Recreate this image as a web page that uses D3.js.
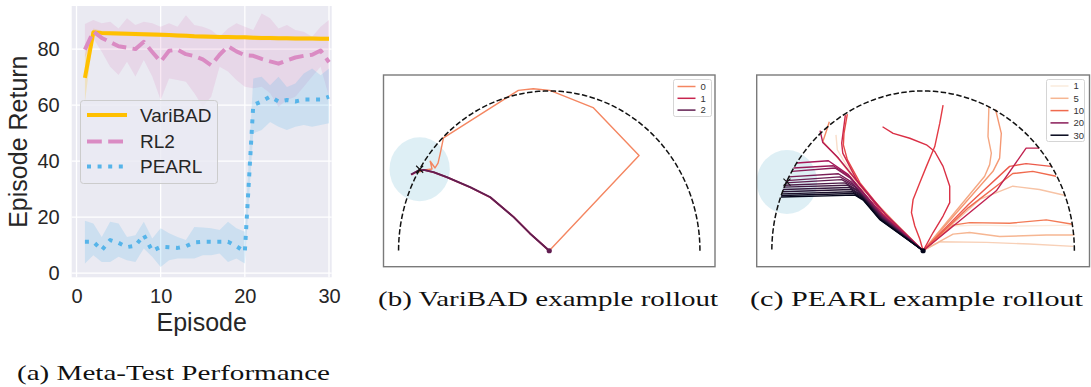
<!DOCTYPE html>
<html>
<head>
<meta charset="utf-8">
<script src="https://cdn.jsdelivr.net/npm/d3@7"></script>
<style>
  body { margin: 0; background: #fff; }
  svg { display: block; }
</style>
</head>
<body>
<svg id="fig" width="1091" height="387"></svg>
<script>
// ---------------- Panel (a): meta-test returns per episode ----------------
const episodes = [1,2,3,4,5,6,7,8,9,10,11,12,13,14,15,16,17,18,19,20,21,22,23,24,25,26,27,28,29,30];

const variBADMean = [69.7,86.0,85.8,85.7,85.6,85.5,85.4,85.3,85.2,85.1,85.0,84.9,84.8,84.6,84.5,84.4,84.3,84.3,84.2,84.2,84.1,84.0,84.0,83.9,83.9,83.8,83.8,83.8,83.7,83.7];
const variBADLow  = [61.0,84.6,85.0,84.9,84.8,84.7,84.6,84.5,84.4,84.3,84.2,84.1,84.0,83.8,83.7,83.6,83.5,83.5,83.4,83.4,83.3,83.2,83.2,83.1,83.1,83.0,83.0,83.0,82.9,82.9];
const variBADHigh = [78.0,87.4,86.6,86.5,86.4,86.3,86.2,86.1,86.0,85.9,85.8,85.7,85.6,85.4,85.3,85.2,85.1,85.1,85.0,85.0,84.9,84.8,84.8,84.7,84.7,84.6,84.6,84.6,84.5,84.5];

const rl2Mean = [79.8,86.3,84.0,82.5,81.0,80.5,80.0,82.6,79.0,75.5,79.4,79.8,78.2,77.5,76.3,74.2,78.0,81.0,79.2,77.8,77.6,76.5,75.6,74.8,76.0,77.0,77.6,78.0,79.5,75.3];
const rl2Low  = [77.0,83.8,79.1,73.7,70.8,75.5,70.2,76.1,70.2,61.8,69.5,69.0,68.3,64.2,59.4,63.0,73.7,72.0,69.0,66.6,66.0,66.6,64.2,59.4,61.8,63.0,66.6,70.2,73.7,63.0];
const rl2High = [89.0,90.4,89.2,89.8,87.4,91.0,88.6,89.8,89.2,88.0,89.2,88.0,92.1,88.6,88.0,86.8,84.4,87.4,89.2,88.0,86.8,92.7,91.0,87.4,88.6,86.8,86.2,84.4,88.0,90.4];

const pearlMean = [11.2,11.2,8.2,11.8,10.8,9.3,9.8,13.6,7.9,9.4,9.2,9.0,9.6,11.0,11.2,11.2,11.2,11.2,9.6,7.6,60.0,61.3,63.0,61.3,61.8,61.3,62.0,62.0,62.0,63.0];
const pearlLow  = [3.4,6.4,4.0,4.0,5.8,4.6,4.0,8.8,5.8,2.2,4.6,5.2,5.2,5.2,6.4,6.4,7.0,4.0,5.2,3.4,49.9,51.1,54.0,52.3,51.1,52.3,52.9,52.3,52.9,53.5];
const pearlHigh = [18.7,17.7,12.9,18.3,17.7,12.9,13.5,18.3,12.4,16.0,14.2,12.9,11.8,16.5,16.3,16.0,15.4,18.3,16.0,14.8,69.5,70.1,67.1,70.1,66.5,67.7,71.3,73.1,70.7,73.1];

const methodNames = ["VariBAD", "RL2", "PEARL"];
const xTicksA = [0, 10, 20, 30];
const yTicksA = [0, 20, 40, 60, 80];

// ---------------- Panels (b) and (c): example rollouts ----------------
const goalB = [-0.86, 0.51];
const goalC = [-0.90, 0.43];
const goalRadius = 0.2;
const taskRadius = 1.0;

const variBADEpisodes = [0, 1, 2];
const variBADPaths = [
  [[0,0],[0.596,0.596],[0.291,0.896],[0.004,1.004],[-0.106,1.014],[-0.205,1.004],[-0.702,0.706],[-0.724,0.606],[-0.738,0.548],[-0.758,0.518],[-0.79,0.56],[-0.778,0.512],[-0.83,0.505],[-0.87,0.49]],
  [[0,0],[-0.125,0.105],[-0.235,0.21],[-0.39,0.333],[-0.522,0.396],[-0.677,0.459],[-0.765,0.49],[-0.83,0.506],[-0.865,0.503],[-0.915,0.476]],
  [[0,0],[-0.128,0.108],[-0.238,0.212],[-0.393,0.336],[-0.525,0.398],[-0.68,0.461],[-0.768,0.492],[-0.834,0.506],[-0.868,0.502],[-0.918,0.477]]
];

const pearlEpisodes = [1,2,3,4,5,6,7,8,9,10,11,12,13,14,15,16,17,18,19,20,21,22,23,24,25,26,27,28,29,30];
const pearlPaths = [
  [[0,0],[0.198,0.155],[0.374,0.16],[0.637,0.155],[0.989,0.16]],
  [[0,0],[-0.2,0.17],[-0.373,0.363],[-0.516,0.549],[-0.567,0.632],[-0.576,0.725]],
  [[0,0],[0.11,0.056],[0.418,0.052],[0.703,0.042],[0.993,0.027]],
  [[0,0],[0.374,0.321],[0.593,0.404],[0.769,0.383],[0.941,0.346]],
  [[0,0],[0.198,0.104],[0.308,0.114],[0.506,0.089],[0.814,0.098],[1.0,0.098]],
  [[0,0],[0.407,0.466],[0.44,0.539],[0.451,0.611],[0.429,0.714],[0.435,0.901]],
  [[0,0],[0.462,0.497],[0.506,0.58],[0.517,0.735],[0.479,0.884]],
  [[0,0],[-0.2,0.19],[-0.396,0.383],[-0.571,0.59],[-0.663,0.683],[-0.641,0.745],[-0.62,0.807]],
  [[0,0],[0.198,0.16],[0.308,0.176],[0.572,0.172],[0.814,0.193],[0.989,0.166]],
  [[0,0],[0.3,0.27],[0.593,0.483],[0.725,0.497],[0.879,0.466]],
  [[0,0],[0.3,0.29],[0.572,0.528],[0.681,0.545],[0.846,0.528]],
  [[0,0],[-0.241,0.217],[-0.417,0.425],[-0.501,0.57],[-0.527,0.663],[-0.523,0.735],[-0.501,0.855]],
  [[0,0],[-0.022,0.073],[-0.055,0.155],[-0.077,0.239],[-0.066,0.321],[-0.022,0.425],[0.022,0.528],[0.077,0.652],[0.11,0.797],[0.132,0.911]],
  [[0,0],[0.066,0.114],[0.132,0.217],[0.176,0.301],[0.176,0.404],[0.132,0.528],[0.077,0.621],[0.022,0.663],[-0.088,0.704],[-0.198,0.735],[-0.268,0.776]],
  [[0,0],[-0.264,0.228],[-0.44,0.445],[-0.531,0.611],[-0.538,0.673],[-0.514,0.849]],
  [[0,0],[0.484,0.375],[0.681,0.642],[0.769,0.642]],
  [[0,0],[-0.25,0.23],[-0.417,0.414],[-0.56,0.58],[-0.663,0.677],[-0.681,0.752]],
  [[0,0],[-0.264,0.218],[-0.494,0.476],[-0.626,0.563],[-0.835,0.549]],
  [[0,0],[-0.264,0.218],[-0.488,0.466],[-0.593,0.532],[-0.857,0.518]],
  [[0,0],[-0.27,0.215],[-0.483,0.456],[-0.582,0.518],[-0.868,0.497]],
  [[0,0],[-0.27,0.214],[-0.472,0.429],[-0.56,0.482],[-0.89,0.462]],
  [[0,0],[-0.272,0.212],[-0.461,0.414],[-0.549,0.462],[-0.905,0.439]],
  [[0,0],[-0.274,0.21],[-0.45,0.40],[-0.538,0.445],[-0.912,0.425]],
  [[0,0],[-0.276,0.208],[-0.439,0.383],[-0.516,0.425],[-0.918,0.41]],
  [[0,0],[-0.278,0.206],[-0.428,0.371],[-0.501,0.41],[-0.923,0.398]],
  [[0,0],[-0.28,0.204],[-0.422,0.358],[-0.488,0.396],[-0.927,0.383]],
  [[0,0],[-0.282,0.202],[-0.413,0.346],[-0.476,0.383],[-0.932,0.369]],
  [[0,0],[-0.284,0.2],[-0.406,0.336],[-0.466,0.369],[-0.936,0.356]],
  [[0,0],[-0.286,0.198],[-0.40,0.325],[-0.457,0.358],[-0.938,0.346]],
  [[0,0],[-0.288,0.196],[-0.396,0.317],[-0.45,0.348],[-0.94,0.336]]
];
const pearlLegendEpisodes = [1, 5, 10, 20, 30];

const captions = ["(a) Meta-Test Performance", "(b) VariBAD example rollout", "(c) PEARL example rollout"];

// ---------------- styling ----------------
const sans = "'Liberation Sans', Arial, sans-serif";
const serif = "'Liberation Serif', 'Times New Roman', serif";
const ink = "#262626";
const methodColors = ["#FFC000", "#DA8BC3", "#56B4E9"];

// seaborn "rocket" colormap anchors
const rocket = d3.scaleLinear()
  .domain([0, 1/7, 2/7, 3/7, 4/7, 5/7, 6/7, 1])
  .range(["#03051A","#35193E","#701F57","#AD1759","#E13342","#F37651","#F6B48F","#FAEBDD"])
  .interpolate(d3.interpolateRgb);

const svg = d3.select("#fig");
svg.append("rect").attr("width", 1091).attr("height", 387).attr("fill", "#fff");

// ======================= (a) =======================
const A = { left: 71.7, right: 331.7, top: 6, bottom: 277.3 };
const xA = d3.scaleLinear().domain([-0.57, 30.32]).range([A.left, A.right]);
const yA = d3.scaleLinear().domain([-1.5, 95.4]).range([A.bottom, A.top]);

const gA = svg.append("g");
gA.append("defs").append("clipPath").attr("id", "clipA")
  .append("rect").attr("x", A.left).attr("y", A.top)
  .attr("width", A.right - A.left).attr("height", A.bottom - A.top);

gA.append("rect").attr("x", A.left).attr("y", A.top)
  .attr("width", A.right - A.left).attr("height", A.bottom - A.top)
  .attr("fill", "#EAEAF2");

gA.append("g").selectAll("line").data(xTicksA).join("line")
  .attr("x1", d => xA(d)).attr("x2", d => xA(d))
  .attr("y1", A.top).attr("y2", A.bottom)
  .attr("stroke", "#fff").attr("stroke-width", 1.3);
gA.append("g").selectAll("line").data(yTicksA).join("line")
  .attr("x1", A.left).attr("x2", A.right)
  .attr("y1", d => yA(d)).attr("y2", d => yA(d))
  .attr("stroke", "#fff").attr("stroke-width", 1.3);

const series = [
  { mean: variBADMean, low: variBADLow, high: variBADHigh, dash: null, width: 4 },
  { mean: rl2Mean, low: rl2Low, high: rl2High, dash: "14.8,6.4", width: 4 },
  { mean: pearlMean, low: pearlLow, high: pearlHigh, dash: "4,6.6", width: 4 }
];

const plotA = gA.append("g").attr("clip-path", "url(#clipA)");
const band = d3.area()
  .x((d, i) => xA(episodes[i]))
  .y0(d => yA(d[0])).y1(d => yA(d[1]));
const meanLine = d3.line().x((d, i) => xA(episodes[i])).y(d => yA(d));

series.forEach((s, k) => {
  plotA.append("path")
    .datum(s.low.map((v, i) => [v, s.high[i]]))
    .attr("d", band)
    .attr("fill", methodColors[k]).attr("fill-opacity", 0.2);
});
series.forEach((s, k) => {
  plotA.append("path")
    .datum(s.mean)
    .attr("d", meanLine)
    .attr("fill", "none")
    .attr("stroke", methodColors[k])
    .attr("stroke-width", s.width)
    .attr("stroke-dasharray", s.dash)
    .attr("stroke-linejoin", "round");
});

const axB = gA.append("g").attr("transform", `translate(0,${A.bottom})`)
  .call(d3.axisBottom(xA).tickValues(xTicksA).tickSize(0).tickPadding(11.5));
const axL = gA.append("g").attr("transform", `translate(${A.left},0)`)
  .call(d3.axisLeft(yA).tickValues(yTicksA).tickSize(0).tickPadding(12));
[axB, axL].forEach(ax => {
  ax.select(".domain").remove();
  ax.selectAll("text").attr("font-family", sans).attr("font-size", 20).attr("fill", ink);
});

gA.append("text").text("Episode")
  .attr("x", (A.left + A.right) / 2).attr("y", 331)
  .attr("text-anchor", "middle").attr("font-family", sans).attr("font-size", 25).attr("fill", ink);
gA.append("text").text("Episode Return")
  .attr("transform", `translate(27,${(A.top + A.bottom) / 2}) rotate(-90)`)
  .attr("text-anchor", "middle").attr("font-family", sans).attr("font-size", 25).attr("fill", ink);

// legend
const legA = gA.append("g");
legA.append("rect").attr("x", 80.5).attr("y", 100.5).attr("width", 137).attr("height", 83)
  .attr("rx", 3).attr("fill", "#EAEAF2").attr("fill-opacity", 0.8)
  .attr("stroke", "#CCCCCC").attr("stroke-width", 1);
const legRowsA = [115, 141.5, 166.5];
methodNames.forEach((name, k) => {
  legA.append("line").attr("x1", 87).attr("x2", 127)
    .attr("y1", legRowsA[k]).attr("y2", legRowsA[k])
    .attr("stroke", methodColors[k]).attr("stroke-width", 4)
    .attr("stroke-dasharray", series[k].dash);
  legA.append("text").text(name).attr("x", 140).attr("y", legRowsA[k])
    .attr("dy", "0.35em").attr("font-family", sans).attr("font-size", 19).attr("fill", ink);
});

// ======================= rollout panels =======================
function rolloutPanel(box, goal, paths, colors, widths, startColor, legend) {
  const g = svg.append("g");
  const x = d3.scaleLinear().domain([-1.1, 1.1]).range([box.left, box.right]);
  const y = d3.scaleLinear().domain([-0.1, 1.1]).range([box.bottom, box.top]);

  g.append("ellipse")
    .attr("cx", x(goal[0])).attr("cy", y(goal[1]))
    .attr("rx", x(goalRadius) - x(0)).attr("ry", y(0) - y(goalRadius))
    .attr("fill", "#ADD8E6").attr("fill-opacity", 0.4);

  const arcPts = d3.range(0, 180.5, 1).map(a => [taskRadius * Math.cos(a * Math.PI / 180), taskRadius * Math.sin(a * Math.PI / 180)]);
  const line = d3.line().x(d => x(d[0])).y(d => y(d[1]));

  paths.forEach((p, i) => {
    g.append("path").datum(p).attr("d", line)
      .attr("fill", "none").attr("stroke", colors[i]).attr("stroke-width", widths[i])
      .attr("stroke-linejoin", "round");
  });

  g.append("path").datum(arcPts).attr("d", line)
    .attr("fill", "none").attr("stroke", "#111").attr("stroke-width", 1.5)
    .attr("stroke-dasharray", "5.5,2.4");

  g.append("path").attr("d", "M-3.5,-3.5L3.5,3.5M-3.5,3.5L3.5,-3.5")
    .attr("transform", `translate(${x(goal[0])},${y(goal[1])})`)
    .attr("stroke", "#111").attr("stroke-width", 1.1);

  g.append("circle").attr("cx", x(0)).attr("cy", y(0)).attr("r", 2.6).attr("fill", startColor);

  // legend
  const L = legend;
  g.append("rect").attr("x", L.x).attr("y", L.y).attr("width", L.w).attr("height", L.h)
    .attr("rx", 2).attr("fill", "#fff").attr("fill-opacity", 0.8)
    .attr("stroke", "#D5D5D5").attr("stroke-width", 1);
  L.labels.forEach((lab, k) => {
    const yy = L.y + L.first + k * L.step;
    g.append("line").attr("x1", L.x + 4).attr("x2", L.x + 22).attr("y1", yy).attr("y2", yy)
      .attr("stroke", L.colors[k]).attr("stroke-width", 1.5);
    g.append("text").text(lab).attr("x", L.x + 27).attr("y", yy).attr("dy", "0.35em")
      .attr("font-family", sans).attr("font-size", 9.5).attr("fill", "#333");
  });

  g.append("rect").attr("x", box.left).attr("y", box.top)
    .attr("width", box.right - box.left).attr("height", box.bottom - box.top)
    .attr("fill", "none").attr("stroke", "#7A7A7A").attr("stroke-width", 1.4);
}

// (b) VariBAD
const colorsB = [rocket(0.75), rocket(0.5), rocket(0.25)];
rolloutPanel(
  { left: 383.5, right: 715, top: 75, bottom: 266.7 },
  goalB, variBADPaths, colorsB, [1.4, 1.8, 1.8], rocket(0.25),
  { x: 673.5, y: 79.5, w: 38, h: 37, first: 7, step: 11.8,
    labels: variBADEpisodes.map(String), colors: colorsB }
);

// (c) PEARL
const pearlColor = ep => rocket(1 - (ep - 1) / 29);
rolloutPanel(
  { left: 756.7, right: 1089.5, top: 75, bottom: 266.7 },
  goalC, pearlPaths, pearlEpisodes.map(pearlColor), pearlEpisodes.map(() => 1.4), "#03051A",
  { x: 1046.5, y: 79.5, w: 38, h: 62, first: 6.5, step: 12.3,
    labels: pearlLegendEpisodes.map(String), colors: pearlLegendEpisodes.map(pearlColor) }
);

// ======================= captions =======================
const capSpecs = [
  { x: 17, y: 380, len: 313 },
  { x: 378, y: 306, len: 340 },
  { x: 750, y: 306, len: 333 }
];
captions.forEach((c, i) => {
  svg.append("text").text(c)
    .attr("x", capSpecs[i].x).attr("y", capSpecs[i].y)
    .attr("textLength", capSpecs[i].len).attr("lengthAdjust", "spacingAndGlyphs")
    .attr("font-family", serif).attr("font-size", 21).attr("fill", "#111");
});
</script>
</body>
</html>
